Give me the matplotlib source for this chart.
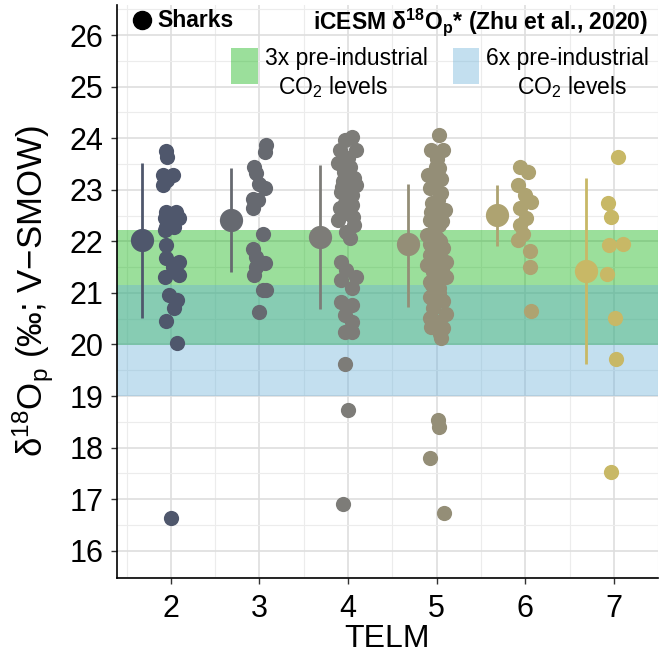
import numpy as np
import matplotlib
matplotlib.use("Agg")
import matplotlib.pyplot as plt
from matplotlib.patches import Rectangle
from matplotlib.lines import Line2D

plt.rcParams['font.family'] = ['Liberation Sans', 'DejaVu Sans']
plt.rcParams['mathtext.fontset'] = 'custom'
plt.rcParams['mathtext.rm'] = 'Liberation Sans'
plt.rcParams['mathtext.it'] = 'Liberation Sans:italic'
plt.rcParams['mathtext.bf'] = 'Liberation Sans:bold'

# TELM groups
telm = [2, 3, 4, 5, 6, 7]

# shark d18Op per TELM: (horizontal jitter, value)
d18o_2 = [(-0.06, 23.76), (-0.04, 23.64), (-0.09, 23.28), (0.02, 23.28), (-0.04, 23.19),
          (-0.09, 23.09), (-0.05, 22.57), (0.06, 22.57), (-0.07, 22.45), (0.02, 22.45),
          (0.09, 22.45), (-0.05, 22.28), (0.04, 22.28), (-0.07, 22.22), (-0.05, 21.93),
          (-0.05, 21.67), (0.09, 21.60), (0.02, 21.51), (-0.07, 21.31), (0.09, 21.35),
          (-0.02, 20.96), (0.07, 20.86), (0.04, 20.71), (-0.05, 20.46), (0.07, 20.03),
          (0.00, 16.64)]
d18o_3 = [(0.07, 23.87), (0.06, 23.74), (-0.06, 23.45), (-0.04, 23.32), (0.00, 23.12),
          (0.06, 23.03), (-0.07, 22.83), (-0.02, 22.80), (-0.07, 22.64), (0.04, 22.15),
          (-0.07, 21.86), (-0.04, 21.70), (0.06, 21.57), (-0.04, 21.51), (-0.06, 21.35),
          (0.04, 21.06), (0.07, 21.06), (0.00, 20.62)]
d18o_4 = [(0.05, 24.03), (-0.04, 23.96), (0.09, 23.77), (-0.09, 23.77), (0.00, 23.62),
          (-0.11, 23.51), (0.02, 23.45), (-0.05, 23.35), (0.07, 23.22), (-0.06, 23.16),
          (0.09, 23.09), (-0.07, 23.05), (-0.08, 22.96), (0.04, 22.90), (0.00, 22.83),
          (-0.04, 22.75), (0.05, 22.70), (-0.09, 22.64), (-0.02, 22.54), (0.06, 22.47),
          (-0.11, 22.41), (0.07, 22.32), (-0.02, 22.19), (0.02, 22.06),
          (-0.08, 21.60), (-0.02, 21.44), (0.09, 21.31), (-0.08, 21.25), (0.04, 21.09),
          (-0.08, 20.83), (0.05, 20.76), (-0.04, 20.57), (0.05, 20.44), (-0.04, 20.25),
          (0.05, 20.25), (-0.03, 19.63), (0.00, 18.73), (-0.06, 16.91)]
d18o_5 = [(0.03, 24.06), (-0.06, 23.77), (0.07, 23.77), (0.00, 23.60), (-0.01, 23.45),
          (0.03, 23.42), (-0.10, 23.29), (0.05, 23.20), (-0.03, 23.15), (-0.08, 23.03),
          (0.05, 22.93), (0.02, 22.80), (-0.05, 22.75), (0.09, 22.61), (-0.06, 22.57),
          (0.05, 22.55), (-0.08, 22.41), (0.06, 22.40), (0.03, 22.32), (-0.02, 22.25),
          (-0.11, 22.12), (0.00, 22.06), (0.04, 22.00), (-0.07, 21.95), (0.07, 21.87),
          (0.02, 21.80), (-0.08, 21.73), (-0.03, 21.65), (0.11, 21.60), (-0.11, 21.54),
          (0.06, 21.45), (-0.04, 21.41), (0.11, 21.31), (0.00, 21.30), (-0.08, 21.22),
          (-0.05, 21.15), (0.03, 21.09), (0.03, 21.00), (0.01, 20.95), (-0.08, 20.93),
          (0.07, 20.85), (-0.04, 20.70), (0.11, 20.60), (-0.08, 20.51), (-0.02, 20.45),
          (-0.06, 20.34), (0.07, 20.31), (0.04, 20.20), (0.05, 20.12),
          (0.02, 18.53), (0.03, 18.39), (-0.07, 17.79), (0.08, 16.73)]
d18o_6 = [(-0.06, 23.45), (0.03, 23.35), (-0.08, 23.09), (0.00, 22.90), (0.07, 22.77),
          (-0.06, 22.64), (0.01, 22.45), (-0.06, 22.32), (-0.02, 22.15), (-0.08, 22.02),
          (0.05, 21.82), (0.05, 21.51), (0.06, 20.65)]
d18o_7 = [(0.05, 23.63), (-0.07, 22.74), (-0.03, 22.48), (-0.06, 21.93), (0.10, 21.94),
          (-0.08, 21.37), (0.01, 20.52), (0.02, 19.71), (-0.03, 17.53)]
sharks = [d18o_2, d18o_3, d18o_4, d18o_5, d18o_6, d18o_7]

# group summaries (mean with range bar)
mean_d18o = [22.02, 22.41, 22.09, 21.95, 22.51, 21.43]
low_d18o = [20.51, 21.41, 20.68, 20.73, 21.90, 19.63]
high_d18o = [23.51, 23.42, 23.48, 23.12, 23.09, 23.22]

# iCESM d18Op* ranges
band_3x = (19.98, 22.22)
band_6x = (19.01, 21.16)

green = (0.02, 0.69, 0.02)
blue = (0.41, 0.69, 0.85)
band_alpha = 0.4

cols = plt.cm.cividis(np.linspace(0.3, 0.8, len(telm)))

fig = plt.figure(figsize=(6.61, 6.55), dpi=100)
ax = fig.add_axes([0.1767, 0.1182, 0.819, 0.874])

ax.axhspan(*band_3x, color=green, alpha=band_alpha, lw=0, zorder=1)
ax.axhspan(*band_6x, color=blue, alpha=band_alpha, lw=0, zorder=1)

for i, t in enumerate(telm):
    pts = np.array(sharks[i])
    ax.scatter(t + pts[:, 0], pts[:, 1], s=120, color=cols[i], lw=0, zorder=3)
    xm = t - 0.32
    ax.plot([xm, xm], [low_d18o[i], high_d18o[i]], color=cols[i], lw=2.0,
            solid_capstyle='butt', zorder=3)
    ax.scatter([xm], [mean_d18o[i]], s=280, color=cols[i], lw=0, zorder=4)

ax.set_xlim(1.39, 7.38)
ax.set_ylim(15.48, 26.58)
ax.set_xticks(telm)
ax.set_yticks(range(16, 27))
ax.set_xticks(np.arange(1.5, 7.6, 1.0), minor=True)
ax.set_yticks(np.arange(15.5, 26.6, 1.0), minor=True)
ax.grid(True, which='major', color='#dedede', lw=1.2)
ax.grid(True, which='minor', color='#ececec', lw=0.8)
ax.set_axisbelow(True)
ax.tick_params(which='minor', length=0)
ax.tick_params(which='major', labelsize=22, length=4.5, width=1, color='#333333')
ax.tick_params(axis='x', pad=7)
ax.tick_params(axis='y', pad=5)

for s in ['top', 'right']:
    ax.spines[s].set_visible(False)
for s in ['left', 'bottom']:
    ax.spines[s].set_linewidth(1.2)

ax.set_xlabel('TELM', fontsize=23, va='center')
ax.set_ylabel(r'δ$^{18}$O$_{\rm p}$ (‰; V$-$SMOW)', fontsize=25, va='center')
ax.xaxis.set_label_coords(0.5, -0.108)
ax.yaxis.set_label_coords(-0.155, 0.5)

# legend drawn as annotations in the upper panel
fig.add_artist(Line2D([0.215], [0.969], marker='o', ms=13, color='black',
                      transform=fig.transFigure))
fig.text(0.238, 0.969, 'Sharks', fontsize=16.5, fontweight='bold', va='center')
fig.text(0.980, 0.966, r'iCESM δ$^{\mathbf{18}}$O$_{\mathbf{p}}$* (Zhu et al., 2020)',
         fontsize=16.5, fontweight='bold', ha='right', va='center')

fig.patches.append(Rectangle((0.349, 0.871), 0.041, 0.056, transform=fig.transFigure,
                             color=green, alpha=band_alpha, lw=0))
fig.patches.append(Rectangle((0.685, 0.871), 0.039, 0.056, transform=fig.transFigure,
                             color=blue, alpha=band_alpha, lw=0))
fig.text(0.524, 0.911, '3x pre-industrial', fontsize=16.5, ha='center', va='center')
fig.text(0.504, 0.867, r'CO$_2$ levels', fontsize=16.5, ha='center', va='center')
fig.text(0.859, 0.911, '6x pre-industrial', fontsize=16.5, ha='center', va='center')
fig.text(0.865, 0.867, r'CO$_2$ levels', fontsize=16.5, ha='center', va='center')

fig.savefig('out.png', dpi=100)
